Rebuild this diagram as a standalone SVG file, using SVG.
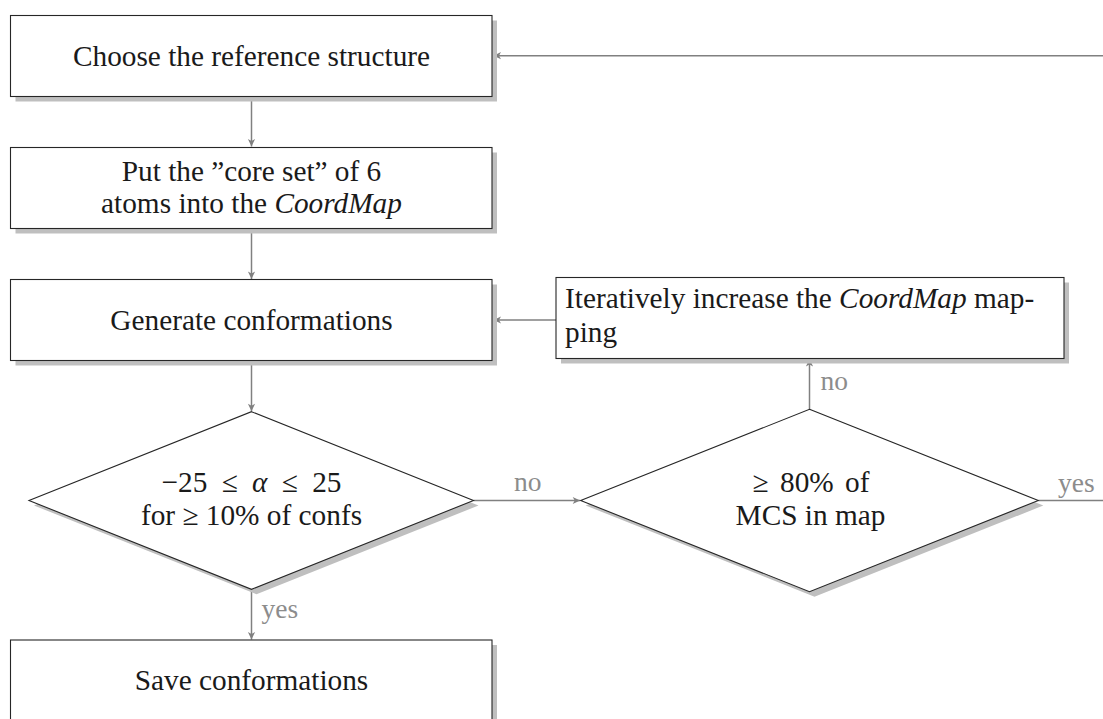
<svg xmlns="http://www.w3.org/2000/svg" width="1103" height="719" viewBox="0 0 1103 719">
<defs>
<marker id="arr" markerUnits="userSpaceOnUse" markerWidth="12" markerHeight="10" viewBox="-8 -5 9 10" refX="0" refY="0" orient="auto">
<path d="M0,0 L-7.5,-3.6 L-5.5,0 L-7.5,3.6 Z" fill="#808080"/>
</marker>
<style>
.box{fill:#fff;stroke:#262626;stroke-width:1.1}
.sh{fill:#bfbfbf;stroke:none}
.t,.tl,.lab{font-family:'Liberation Serif','DejaVu Serif',serif}
.t{font-size:29.3px;fill:#1a1a1a;text-anchor:middle}
.tl{font-size:29.3px;fill:#1a1a1a}
.lab{font-size:27.5px;fill:#8c8c8c}
.c{fill:none;stroke:#808080;stroke-width:1.5}
.it{font-style:italic}
</style>
</defs>
<rect width="1103" height="719" fill="#fff"/>
<g id="connectors">
<path class="c" d="M251.5,96.5 V146.5" marker-end="url(#arr)"/>
<path class="c" d="M251.5,228.5 V279" marker-end="url(#arr)"/>
<path class="c" d="M251.5,360.5 V411.2" marker-end="url(#arr)"/>
<path class="c" d="M251.5,589.3 V639.5" marker-end="url(#arr)"/>
<path class="c" d="M473.5,500.5 H580.2" marker-end="url(#arr)"/>
<path class="c" d="M809.5,409.3 V359" marker-end="url(#arr)"/>
<path class="c" d="M556,320 H493.5" marker-end="url(#arr)"/>
<path class="c" d="M1038.3,500.5 H1130 V55.7 H493.5" marker-end="url(#arr)"/>
<text class="lab" x="514" y="491">no</text>
<text class="lab" x="1058" y="492">yes</text>
<text class="lab" x="820.5" y="390">no</text>
<text class="lab" x="261.5" y="618">yes</text>
</g>
<g id="n1">
<rect class="sh" x="15.5" y="20.5" width="481.5" height="81"/>
<rect class="box" x="10.5" y="15.5" width="481.5" height="81"/>
<text class="t" x="251.5" y="65.7">Choose the reference structure</text>
</g>
<g id="n2">
<rect class="sh" x="15.5" y="152.5" width="481.5" height="81"/>
<rect class="box" x="10.5" y="147.5" width="481.5" height="81"/>
<text class="t" x="251.5" y="180.5">Put the ”core set” of 6</text>
<text class="t" x="251.5" y="212.5">atoms into the <tspan class="it">CoordMap</tspan></text>
</g>
<g id="n3">
<rect class="sh" x="15.5" y="284.5" width="481.5" height="81"/>
<rect class="box" x="10.5" y="279.5" width="481.5" height="81"/>
<text class="t" x="251.5" y="330">Generate conformations</text>
</g>
<g id="n5">
<rect class="sh" x="561" y="282.5" width="508" height="81"/>
<rect class="box" x="556" y="277.5" width="508" height="81"/>
<text class="tl" x="565" y="308.3">Iteratively increase the <tspan class="it">CoordMap</tspan> map-</text>
<text class="tl" x="565" y="341.7">ping</text>
</g>
<g id="d1">
<polygon class="sh" points="256.5,416.7 478.5,505.5 256.5,594.3 34,505.5"/>
<polygon class="box" points="251.5,411.7 473.5,500.5 251.5,589.3 29,500.5"/>
<text class="t" x="251.5" y="491.7" style="word-spacing:7px">−25 ≤ <tspan class="it">α</tspan> ≤ 25</text>
<text class="t" x="251.5" y="525">for ≥ 10% of confs</text>
</g>
<g id="d2">
<polygon class="sh" points="814.5,414.3 1043.3,505.5 814.5,596.7 585.7,505.5"/>
<polygon class="box" points="809.5,409.3 1038.3,500.5 809.5,591.7 580.7,500.5"/>
<text class="t" x="811" y="491.7" style="word-spacing:4px">≥ 80% of</text>
<text class="t" x="810.5" y="525">MCS in map</text>
</g>
<g id="n4">
<rect class="sh" x="15.5" y="645" width="481.5" height="81"/>
<rect class="box" x="10.5" y="640" width="481.5" height="81"/>
<text class="t" x="251.5" y="690">Save conformations</text>
</g>
</svg>
